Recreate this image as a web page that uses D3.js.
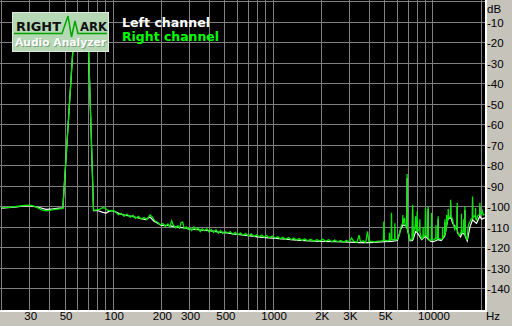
<!DOCTYPE html>
<html>
<head>
<meta charset="utf-8">
<script src="https://cdn.jsdelivr.net/npm/d3@7"></script>
<style>
  html, body { margin: 0; padding: 0; background: #c6c3bb; }
  svg { display: block; }
  .tick-label { font-family: 'Liberation Sans', Arial, sans-serif; font-size: 11.5px; fill: #000; }
  .legend { font-family: 'DejaVu Sans', Verdana, sans-serif; font-size: 12.5px; font-weight: bold; }
  .logo-text { font-family: 'DejaVu Sans', Verdana, sans-serif; font-weight: bold; }
</style>
</head>
<body>
<svg class="chart"></svg>
<script>
//Axis ticks and labels
let xGrid = [20, 30, 40, 50, 60, 70, 80, 90, 100, 200, 300, 400, 500, 600, 700, 800, 900,
  1000, 2000, 3000, 4000, 5000, 6000, 7000, 8000, 9000, 10000, 20000];
let xTicks = [30, 50, 100, 200, 300, 500, 1000, 2000, 3000, 5000, 10000];
let xTickLabels = ['30', '50', '100', '200', '300', '500', '1000', '2K', '3K', '5K', '10000'];
let yGrid = [0, -10, -20, -30, -40, -50, -60, -70, -80, -90, -100, -110, -120, -130, -140];
let yTicks = [-10, -20, -30, -40, -50, -60, -70, -80, -90, -100, -110, -120, -130, -140];
let seriesNames = ['Left channel', 'Right channel'];

//Right channel spectrum (Hz, dB)
let rightHz = [20, 22, 24, 26, 28, 30, 32, 34, 36, 38, 40, 43, 46, 48.4,
  57, 62, 69.5, 75.3,
  78, 82, 86, 89, 92, 96, 100, 104, 108, 112, 117, 122, 128, 133, 138, 144, 150, 156, 162, 170, 176,
  182, 190, 198, 205, 212, 220, 226, 232, 238, 246, 254, 260, 266, 272, 278, 286, 294, 302, 310,
  320, 330, 340, 350, 360, 372, 385, 398, 410, 425, 440, 455, 470, 485, 500, 520, 540, 560, 580,
  600, 625, 650, 675, 700, 730, 760, 790, 820, 850, 880, 910, 950, 990, 1030, 1070, 1110, 1150,
  1200, 1250, 1300, 1350, 1400, 1460, 1520, 1580, 1650, 1720, 1800, 1880, 1960, 2050, 2140, 2230,
  2330, 2430, 2540, 2650, 2760, 2880, 3000, 3100, 3200, 3350, 3450, 3520, 3680, 3800, 3900, 3980,
  4150, 4300, 4450, 4800, 4900, 4932, 4960, 5200, 5330, 5350, 5370, 5480, 5510, 5540, 5700, 5760,
  5780, 5800, 6000, 6150, 6300, 6400, 6460, 6486, 6510, 6600, 6650, 6700, 6850, 6880, 6900, 6920,
  7050, 7200, 7420, 7465, 7500, 7650, 7750, 7800, 7830, 7950, 7972, 8000, 8150, 8260, 8282, 8310,
  8500, 8670, 8690, 8710, 8900, 8970, 8996, 9020, 9250, 9310, 9338, 9365, 9600, 9780, 9810, 9840,
  10100, 10300, 10420, 10450, 10480, 10760, 10790, 10820, 11100, 11300, 11480, 11500, 11530, 11860,
  11886, 11910, 12150, 12200, 12250, 12450, 12474, 12500, 12650, 12880, 12912, 12940, 13300, 13500,
  13700, 13900, 14170, 14198, 14230, 14600, 14800, 15070, 15100, 15130, 15400, 15570, 15600, 15630,
  15830, 15860, 15890, 16400, 16600, 16800, 17030, 17300, 17680, 17706, 17730, 18100, 18300, 18470,
  18500, 18530, 18760, 19000, 19300, 19650, 19680, 19710, 20160, 20400, 20640, 21140];
let rightDb = [-100.4, -100.3, -100.0, -99.6, -99.3, -99.2, -99.6, -100.6, -101.6, -102.0, -101.7, -101.2, -101.0, -100.8,
  -13, -8, -13, -101.6,
  -101.6, -101.2, -100.4, -100.6, -101.6, -102.0, -101.8, -102.6, -103.8, -103.2, -104.6, -103.6, -105.0, -104.2, -105.6, -104.6, -106.0, -105.2, -106.2, -104.0, -105.0,
  -106.8, -107.6, -108.8, -108.2, -109.6, -108.4, -109.8, -106.8, -109.0, -110.2, -109.2, -110.4, -107.6, -107.4, -110.6, -109.8, -111.0, -110.4, -111.6,
  -109.8, -111.2, -110.2, -112.0, -110.8, -111.6, -110.6, -112.2, -111.0, -112.4, -111.2, -112.8, -111.6, -113.0, -112.0, -112.8, -112.2, -113.4, -112.4,
  -113.6, -112.8, -113.8, -113.0, -114.2, -113.2, -114.4, -113.6, -114.6, -113.8, -114.8, -114.0, -115.0, -114.2, -115.2, -114.6, -115.6, -114.8,
  -115.8, -115.0, -116.0, -115.2, -116.2, -115.4, -116.4, -115.6, -116.6, -115.8, -116.8, -116.0, -116.6, -115.8, -116.8, -116.0,
  -117.0, -116.2, -117.0, -116.4, -117.2, -116.4, -117.0, -115.2, -116.8, -117.2, -113.8, -117.0, -116.6, -117.4, -112.0, -117.0,
  -116.8, -117.2, -116.8, -116.6, -116.4, -107.2, -116.2, -116.6, -116.4, -112.6, -116.4, -116.2, -102.9, -115.8, -116.0, -115.8,
  -108.0, -116.2, -115.8, -114.0, -110.0, -108.6, -108.2, -104.0, -108.0, -107.6, -105.4, -108.4, -109.6, -110.0, -84.0, -110.4,
  -113.0, -116.2, -115.8, -99.0, -115.2, -111.0, -109.4, -104.6, -110.4, -111.6, -102.3, -112.0, -111.2, -111.0, -106.0, -112.6,
  -115.6, -115.2, -110.0, -115.0, -114.0, -113.8, -100.6, -113.6, -114.8, -115.0, -99.8, -115.4, -116.4, -116.2, -103.0, -116.0,
  -116.2, -115.6, -115.4, -109.0, -115.6, -115.4, -104.6, -115.4, -115.6, -116.0, -115.4, -110.0, -115.0, -113.6,
  -106.0, -113.2, -110.0, -104.0, -108.0, -105.0, -101.0, -104.6, -105.4, -104.8, -96.6, -104.0, -106.6, -109.2,
  -111.0, -109.6, -110.4, -98.0, -112.0, -114.0, -113.4, -112.0, -103.4, -112.6, -112.6, -110.0, -106.0, -111.0,
  -113.0, -99.8, -113.6, -116.0, -110.0, -108.4, -107.4, -106.0, -105.6, -95.0, -105.4, -104.4, -104.8, -104.6,
  -100.6, -106.0, -106.4, -104.6, -104.0, -103.8, -98.0, -103.6, -103.0, -102.0, -104.0, -103.6];

//Left channel spectrum (Hz, dB)
let leftHz = [20, 24, 28, 30, 34, 38, 42, 46, 48.4, 57, 62, 69.5, 75.3, 80, 85, 90, 95, 100, 110, 120,
  130, 140, 150, 160, 170, 180, 190, 200, 220, 240, 260, 280, 300, 330, 360, 400, 450, 500, 560,
  620, 700, 800, 900, 1000, 1200, 1400, 1700, 2000, 2500, 3000, 3500, 4000, 4500, 5000, 5500,
  6000, 6300, 6500, 6800, 6880, 6900, 6920, 7050, 7200, 7440, 7465, 7490, 7800, 8000, 8500, 8970,
  8996, 9020, 9310, 9338, 9365, 9700, 10100, 10760, 10790, 10820, 11300, 11860, 11886, 11910, 12400,
  12880, 12912, 12940, 13300, 14170, 14198, 14230, 14500, 14900, 15300, 15830, 15860, 15890, 16400,
  17030, 17680, 17706, 17730, 18300, 18760, 19650, 19680, 19710, 20160, 21140];
let leftDb = [-100.6, -100.2, -99.6, -99.6, -100.2, -101.2, -101.0, -100.6, -100.6, -13.5, -8.5, -13.5, -101.8, -101.8, -102.6, -103.0, -102.0, -102.0, -103.4, -104.2,
  -104.6, -105.2, -105.8, -106.2, -105.0, -107.0, -108.0, -109.0, -109.0, -109.6, -110.0, -110.2, -110.8, -111.0, -111.4, -111.6, -112.2, -112.6, -113.2,
  -113.6, -114.0, -114.6, -115.0, -115.2, -115.8, -116.2, -116.6, -116.8, -117.0, -117.2, -117.4, -117.4, -117.2, -117.0, -116.8,
  -116.4, -110.8, -108.8, -109.2, -110.4, -86.0, -111.0, -113.6, -116.6, -116.4, -101.0, -116.2, -112.0, -112.6, -116.0, -114.4,
  -102.0, -114.4, -115.6, -101.0, -115.8, -116.8, -117.0, -116.0, -106.0, -116.0, -116.4, -114.2, -107.5, -113.8, -106.0,
  -105.4, -98.0, -105.0, -108.0, -111.0, -100.0, -112.6, -113.4, -114.6, -112.6, -113.6, -101.5, -114.0, -116.6,
  -110.0, -106.4, -97.0, -106.4, -107.4, -108.0, -104.6, -100.0, -104.6, -106.0, -105.4];

//Parameters for svg
let width = 512;
let height = 326;
let plotW = 485;
let plotH = 310;

//Scales
let x = d3.scaleLog().domain([20, 20000]).range([1.5, 481]);
let y = d3.scaleLinear().domain([0, -150]).range([1.5, 309.5]);

let svg = d3.select('svg.chart')
  .attr('width', width)
  .attr('height', height);

//Background and plot area
svg.append('rect')
  .attr('width', width)
  .attr('height', height)
  .attr('fill', '#c6c3bb');

svg.append('rect')
  .attr('width', plotW)
  .attr('height', plotH)
  .attr('fill', '#000');

//Grid
let grid = svg.append('g').attr('stroke', '#808080').attr('stroke-width', 1);

grid.selectAll('.vgrid')
  .data(xGrid)
  .enter()
  .append('line')
    .attr('x1', d => Math.floor(x(d)) + 0.5)
    .attr('x2', d => Math.floor(x(d)) + 0.5)
    .attr('y1', 0)
    .attr('y2', plotH);

grid.selectAll('.hgrid')
  .data(yGrid)
  .enter()
  .append('line')
    .attr('x1', 0)
    .attr('x2', plotW)
    .attr('y1', d => Math.floor(y(d)) + 0.5)
    .attr('y2', d => Math.floor(y(d)) + 0.5);

//Frame edges
svg.append('rect').attr('x', plotW).attr('y', 0).attr('width', 2).attr('height', plotH + 2).attr('fill', '#fff');
svg.append('rect').attr('x', 0).attr('y', plotH).attr('width', plotW + 2).attr('height', 2).attr('fill', '#fff');

//Clip lines to the plot
svg.append('clipPath')
    .attr('id', 'plot-clip')
  .append('rect')
    .attr('width', plotW)
    .attr('height', plotH);

let line = d3.line()
  .x(d => x(d[0]))
  .y(d => y(d[1]));

let lines = svg.append('g').attr('clip-path', 'url(#plot-clip)');

lines.append('path')
  .datum(d3.zip(leftHz, leftDb))
  .attr('fill', 'none')
  .attr('stroke', '#ffffff')
  .attr('stroke-width', 1.2)
  .attr('d', line);

lines.append('path')
  .datum(d3.zip(rightHz, rightDb))
  .attr('fill', 'none')
  .attr('stroke', '#00e800')
  .attr('stroke-width', 1.3)
  .attr('d', line);

//Y labels
svg.selectAll('.ylabel')
  .data(yTicks)
  .enter()
  .append('text')
    .attr('class', 'tick-label')
    .attr('x', 487)
    .attr('y', d => y(d) + 4.5)
    .text(d => d);

svg.append('text').attr('class', 'tick-label').attr('x', 487).attr('y', 13).text('dB');

//X labels
svg.selectAll('.xlabel')
  .data(xTicks)
  .enter()
  .append('text')
    .attr('class', 'tick-label')
    .attr('text-anchor', 'middle')
    .attr('x', d => x(d) + 1)
    .attr('y', 320)
    .text((d, i) => xTickLabels[i]);

svg.append('text').attr('class', 'tick-label').attr('x', 486).attr('y', 320).text('Hz');

//Logo
let logo = svg.append('g');

logo.append('rect')
  .attr('x', 12.5)
  .attr('y', 12.5)
  .attr('width', 96)
  .attr('height', 39)
  .attr('fill', '#b4d9b4')
  .attr('stroke', '#dfe9df');

logo.append('text')
  .attr('class', 'logo-text')
  .attr('x', 16)
  .attr('y', 30.5)
  .attr('font-size', 11.5)
  .attr('textLength', 45)
  .attr('lengthAdjust', 'spacingAndGlyphs')
  .attr('fill', '#111')
  .text('RIGHT');

logo.append('text')
  .attr('class', 'logo-text')
  .attr('x', 80)
  .attr('y', 30.5)
  .attr('font-size', 11.5)
  .attr('textLength', 27)
  .attr('lengthAdjust', 'spacingAndGlyphs')
  .attr('fill', '#111')
  .text('ARK');

logo.append('path')
  .attr('d', 'M14,33.5 L62,33.5 L68,16 L71.5,37 L75,21 L78,33.5 L107,33.5')
  .attr('fill', 'none')
  .attr('stroke', '#00a400')
  .attr('stroke-width', 1.5);

logo.append('text')
  .attr('class', 'logo-text')
  .attr('x', 16)
  .attr('y', 47)
  .attr('font-size', 10.5)
  .attr('textLength', 91)
  .attr('lengthAdjust', 'spacingAndGlyphs')
  .attr('fill', '#7f9f7f')
  .text('Audio Analyzer');

logo.append('text')
  .attr('class', 'logo-text')
  .attr('x', 15)
  .attr('y', 46)
  .attr('font-size', 10.5)
  .attr('textLength', 91)
  .attr('lengthAdjust', 'spacingAndGlyphs')
  .attr('fill', '#fff')
  .text('Audio Analyzer');

//Legend
let legendColors = ['#ffffff', '#00ff00'];
let legendWidths = [88, 97];

svg.selectAll('.legend')
  .data(seriesNames)
  .enter()
  .append('text')
    .attr('class', 'legend')
    .attr('x', 122)
    .attr('y', (d, i) => 26.5 + i * 14.5)
    .attr('fill', (d, i) => legendColors[i])
    .attr('textLength', (d, i) => legendWidths[i])
    .attr('lengthAdjust', 'spacingAndGlyphs')
    .text(d => d);
</script>
</body>
</html>
